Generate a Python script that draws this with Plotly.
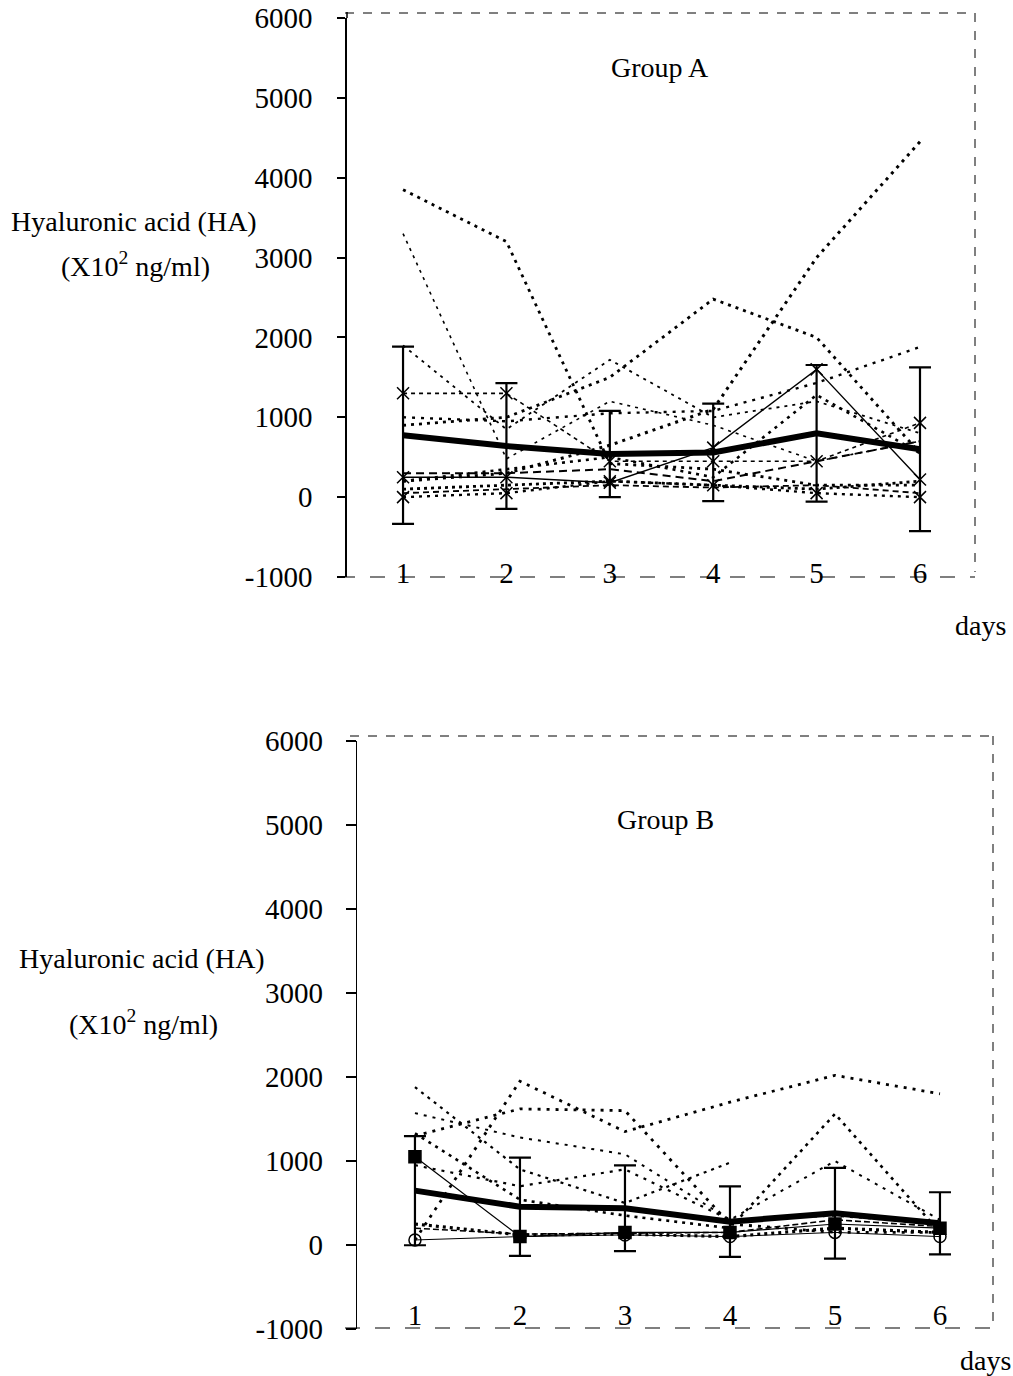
import plotly.graph_objects as go

W, H = 1013, 1376
days = [1, 2, 3, 4, 5, 6]
day_labels = ["1", "2", "3", "4", "5", "6"]
y_ticks = [-1000, 0, 1000, 2000, 3000, 4000, 5000, 6000]
y_tick_text = ["-1000", "0", "1000", "2000", "3000", "4000", "5000", "6000"]

# ---- Group A (individual patients) ----
a1 = [3850, 3200, 420, 350, 150, 150]
a2 = [3300, 480, 1200, 900, 450, 700]
a3 = [900, 1000, 1500, 2480, 2000, 550]
a4 = [200, 300, 650, 1100, 3000, 4450]
a5 = [1900, 850, 1720, 1000, 1200, 800]
a6 = [250, 250, 180, 620, 1600, 220]
a7 = [1000, 950, 1050, 1080, 1430, 1880]
a8 = [1300, 1300, 450, 450, 450, 930]
a9 = [200, 350, 500, 250, 1280, 550]
a10 = [300, 300, 350, 200, 450, 700]
a11 = [100, 150, 200, 150, 100, 200]
a12 = [50, 100, 150, 120, 150, 50]
a13 = [0, 50, 200, 150, 50, 0]
group_a = [a1, a2, a3, a4, a5, a6, a7, a8, a9, a10, a11, a12, a13]
mean_a = [775, 640, 540, 560, 800, 600]
sd_a = [1110, 787, 540, 610, 855, 1025]

# ---- Group B (individual patients) ----
b1 = [60, 1950, 1350, 1700, 2020, 1800]
b2 = [1300, 1620, 1600, 250, 150, 150]
b3 = [1570, 1280, 1080, 300, 1000, 300]
b4 = [1880, 900, 500, 980, None, None]
b5 = [1330, 540, 350, 200, 1560, 150]
b6 = [1050, 100, 150, 150, 250, 200]
b7 = [950, 700, 900, 300, 350, 250]
b8 = [250, 120, 130, 100, 200, 150]
b9 = [60, 100, 120, 100, 150, 100]
b10 = [200, 130, 140, 150, 300, 220]
group_b = [b1, b2, b3, b4, b5, b6, b7, b8, b9, b10]
mean_b = [647, 456, 437, 278, 377, 258]
sd_b = [650, 585, 510, 420, 540, 370]

# styles (dash pattern, width)
styles_a = [("3px,5px", 2.8), ("3px,5px", 1.6), ("3px,5px", 2.8), ("3px,5px", 3.0),
            ("3px,5px", 1.8), ("solid", 1.4), ("3px,6px", 2.4), ("4px,4px", 1.6),
            ("3px,5px", 2.6), ("8px,5px", 2.0), ("3px,4px", 2.8), ("6px,4px", 1.8),
            ("3px,5px", 2.4)]
styles_b = [("3px,6px", 2.8), ("3px,6px", 2.8), ("3px,6px", 2.0), ("3px,5px", 2.2),
            ("3px,5px", 2.6), ("solid", 1.2), ("3px,6px", 2.2), ("3px,4px", 3.2),
            ("solid", 1.0), ("6px,3px", 1.6)]
markers_a = {7: "x-thin", 12: "x-thin", 5: "x-thin"}
markers_b = {5: "square", 8: "circle-open", 7: "line-ns"}

FONT = "Liberation Serif, Times New Roman, serif"

def px_x(p):
    return p / W

def px_y(p):
    return 1 - p / H

fig = go.Figure()

def add_group(series, styles, markers, mean, sd, xa, ya):
    for i, s in enumerate(series):
        dash, w = styles[i]
        sym = markers.get(i)
        fig.add_trace(go.Scatter(
            x=days, y=s, xaxis=xa, yaxis=ya,
            mode="lines+markers" if sym else "lines",
            line=dict(color="black", width=w, dash=dash),
            marker=dict(symbol=sym or "circle", size=12, color="black",
                        line=dict(color="black", width=1.5)),
            showlegend=False, connectgaps=False, hoverinfo="skip"))
    fig.add_trace(go.Scatter(
        x=days, y=mean, xaxis=xa, yaxis=ya, mode="lines",
        line=dict(color="black", width=6),
        error_y=dict(type="data", array=sd, visible=True, color="black",
                     thickness=2.2, width=11),
        showlegend=False))

add_group(group_a, styles_a, markers_a, mean_a, sd_a, "x", "y")
add_group(group_b, styles_b, markers_b, mean_b, sd_b, "x2", "y2")

axis_font = dict(family=FONT, size=29, color="black")

fig.update_layout(
    template="none",
    width=W, height=H, margin=dict(l=0, r=0, t=0, b=0, pad=0),
    paper_bgcolor="white", plot_bgcolor="white",
    font=dict(family=FONT, size=28, color="black"),
    xaxis=dict(domain=[px_x(347), px_x(975)], range=[0.458, 6.532],
               tickvals=days, ticktext=day_labels, anchor="free",
               position=px_y(553), showline=False, ticks="", showgrid=False,
               zeroline=False, tickfont=axis_font, automargin=False),
    yaxis=dict(domain=[px_y(577), px_y(18)], range=[-1000, 6000],
               tickvals=y_ticks, ticktext=y_tick_text, ticks="outside", ticklen=8,
               tickwidth=1.5, tickcolor="black", showline=True, linecolor="black",
               linewidth=1.5, anchor="x", showgrid=False, zeroline=False,
               tickfont=axis_font, ticklabelstandoff=19, automargin=False),
    xaxis2=dict(domain=[px_x(357), px_x(993)], range=[0.448, 6.505],
                tickvals=days, ticktext=day_labels, anchor="free",
                position=px_y(1295), showline=False, ticks="", showgrid=False,
                zeroline=False, tickfont=axis_font, automargin=False),
    yaxis2=dict(domain=[px_y(1329), px_y(741)], range=[-1000, 6000],
                tickvals=y_ticks, ticktext=y_tick_text, ticks="outside", ticklen=10,
                tickwidth=1.5, tickcolor="black", showline=True, linecolor="black",
                linewidth=1.2, anchor="x2", showgrid=False, zeroline=False,
                tickfont=axis_font, ticklabelstandoff=17, automargin=False),
)

shapes = [
    dict(type="line", xref="paper", yref="paper", x0=px_x(345), x1=px_x(975),
         y0=px_y(13), y1=px_y(13), line=dict(color="black", width=1, dash="dash")),
    dict(type="line", xref="paper", yref="paper", x0=px_x(975), x1=px_x(975),
         y0=px_y(13), y1=px_y(572), line=dict(color="black", width=1, dash="dash")),
    dict(type="line", xref="paper", yref="paper", x0=px_x(340), x1=px_x(975),
         y0=px_y(577), y1=px_y(577), line=dict(color="black", width=1.2, dash="longdash")),
    dict(type="line", xref="paper", yref="paper", x0=px_x(347), x1=px_x(347),
         y0=px_y(12), y1=px_y(18), line=dict(color="black", width=1.5)),
    dict(type="line", xref="paper", yref="paper", x0=px_x(350), x1=px_x(993),
         y0=px_y(736), y1=px_y(736), line=dict(color="black", width=1, dash="dash")),
    dict(type="line", xref="paper", yref="paper", x0=px_x(993), x1=px_x(993),
         y0=px_y(736), y1=px_y(1325), line=dict(color="black", width=1, dash="dash")),
    dict(type="line", xref="paper", yref="paper", x0=px_x(345), x1=px_x(993),
         y0=px_y(1328), y1=px_y(1328), line=dict(color="black", width=1.2, dash="longdash")),
]
fig.update_layout(shapes=shapes)

def ann(text, x, y, size=28):
    fig.add_annotation(text=text, xref="paper", yref="paper", x=px_x(x), y=px_y(y),
                       xanchor="center", yanchor="middle", showarrow=False,
                       font=dict(family=FONT, size=size, color="black"))

ann("Hyaluronic acid (HA)", 134, 222)
ann("(X10<sup>2</sup> ng/ml)", 135, 264)
ann("Group A", 660, 67)
ann("days", 980, 625)
ann("Hyaluronic acid (HA)", 142, 958)
ann("(X10<sup>2</sup> ng/ml)", 143, 1022)
ann("Group B", 665, 820)
ann("days", 985, 1360)

fig.write_html("out.html")
